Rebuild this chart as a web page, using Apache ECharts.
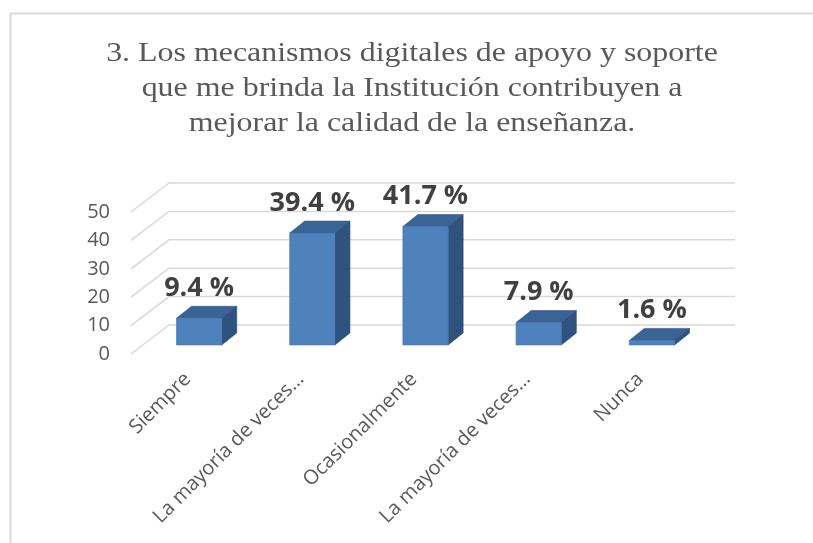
<!DOCTYPE html>
<html>
<head>
<meta charset="utf-8">
<script src="https://cdn.jsdelivr.net/npm/echarts@6/dist/echarts.min.js"></script>
<style>
	html, body { margin: 0; padding: 0; background: #fff; }
	#chart { width: 813px; height: 543px; }
</style>
</head>
<body>
<div id="chart"></div>
<script>
(function () {
	'use strict';

	var categories = ['Siempre', 'La mayoría de veces…', 'Ocasionalmente', 'La mayoría de veces…', 'Nunca'];
	var values = [9.4, 39.4, 41.7, 7.9, 1.6];
	var yTicks = [0, 10, 20, 30, 40, 50];
	var title = '3. Los mecanismos digitales de apoyo y soporte\nque me brinda la Institución contribuyen a\nmejorar la calidad de la enseñanza.';

	// depth of the floor (front plane -> back wall), in px
	var DX = 38, DY = -29;

	var chart = echarts.init(document.getElementById('chart'));

	function wallItem(params, api) {
		var cs = params.coordSys;
		var y = api.coord([0, api.value(1)])[1];
		var x0 = cs.x, x1 = cs.x + cs.width;
		return {
			type: 'polyline',
			shape: { points: [[x0, y], [x0 + DX, y + DY], [x1 + DX, y + DY]] },
			style: { stroke: '#d9d9d9', lineWidth: 1.5, fill: null },
			silent: true
		};
	}

	function barItem(params, api) {
		var i = api.value(0), v = api.value(1);
		var base = api.coord([i, 0]);
		var top = api.coord([i, v]);
		var band = api.size([1, 0])[0];
		var w = band * 0.4;
		// bars sit a bit behind the front plane
		var ox = 11.5, oy = -9;
		var bx = 15, by = -12;
		var l = base[0] - w / 2 + ox, r = l + w;
		var yb = base[1] + oy, yt = top[1] + oy;
		return {
			type: 'group',
			children: [
				{ type: 'polygon', shape: { points: [[l, yt], [r, yt], [r + bx, yt + by], [l + bx, yt + by]] },
					style: { fill: '#3b6496', stroke: '#33598a', lineWidth: 0.6 } },
				{ type: 'polygon', shape: { points: [[r, yt], [r + bx, yt + by], [r + bx, yb + by], [r, yb]] },
					style: { fill: '#30527e', stroke: '#2c4c75', lineWidth: 0.6 } },
				{ type: 'rect', shape: { x: l, y: yt, width: w, height: yb - yt },
					style: { fill: '#4f81bd', stroke: '#4776ad', lineWidth: 0.6 } },
				{ type: 'text', x: (l + r) / 2, y: yt - 30,
					style: { text: v.toFixed(1) + ' %', fill: '#404040', font: 'bold 27px "Open Sans", sans-serif',
						align: 'center', verticalAlign: 'middle' } }
			]
		};
	}

	var option = {
		animation: false,
		backgroundColor: '#ffffff',
		graphic: [{
			type: 'rect', left: 8, top: 11, shape: { width: 900, height: 600 },
			style: { fill: null, stroke: '#d9d9d9', lineWidth: 2 }, silent: true
		}, {
			type: 'text', x: 412, y: 36, scaleX: 1.14,
			style: { text: title, align: 'center', verticalAlign: 'top', fill: '#595959',
				font: '28px "Liberation Serif", "Times New Roman", serif', lineHeight: 35 },
			silent: true
		}],
		grid: { left: 131, right: 116, top: 212, bottom: 189, containLabel: false },
		xAxis: {
			type: 'category',
			data: categories,
			axisLine: { show: false },
			axisTick: { show: false },
			splitLine: { show: false },
			axisLabel: { interval: 0, rotate: 45, margin: 22, color: '#595959', fontSize: 20,
				fontFamily: '"Open Sans", sans-serif' }
		},
		yAxis: {
			type: 'value',
			min: 0, max: 50, interval: 10,
			axisLine: { show: false },
			axisTick: { show: false },
			splitLine: { show: false },
			axisLabel: { margin: 21, color: '#595959', fontSize: 20, fontFamily: '"Open Sans", sans-serif' }
		},
		series: [{
			type: 'custom',
			renderItem: wallItem,
			data: yTicks.map(function (t) { return [0, t]; }),
			encode: { x: 0, y: 1 },
			z: 1,
			silent: true
		}, {
			type: 'custom',
			renderItem: barItem,
			data: values.map(function (v, i) { return [i, v]; }),
			encode: { x: 0, y: 1 },
			z: 2
		}]
	};

	chart.setOption(option);
})();
</script>
</body>
</html>
